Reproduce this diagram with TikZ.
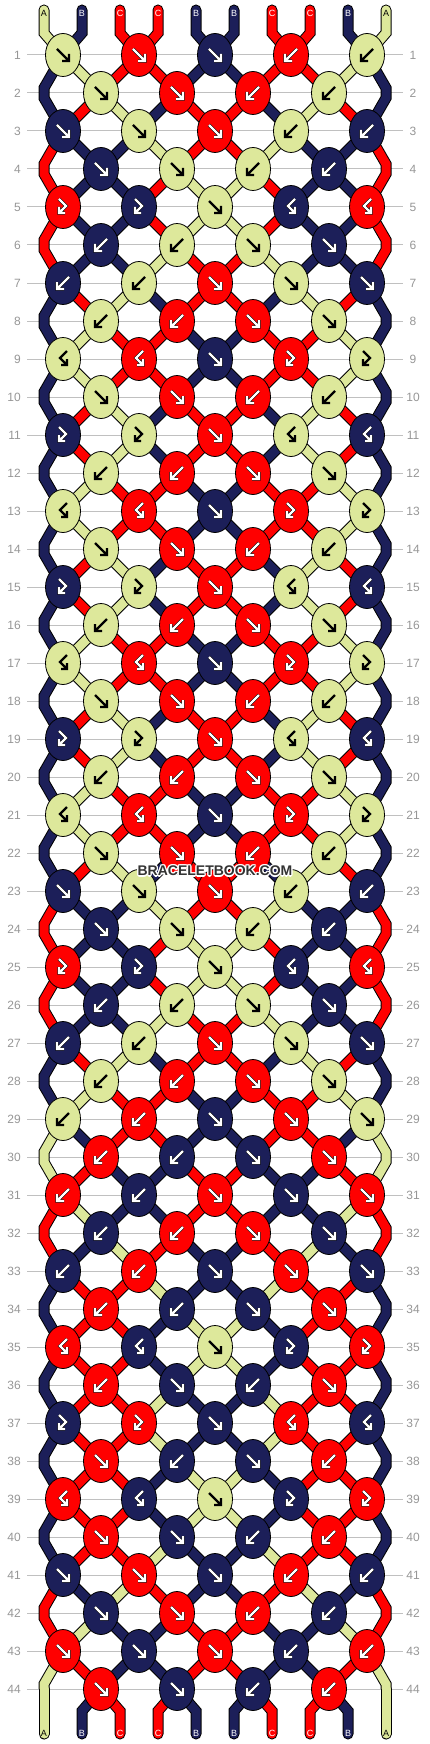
\documentclass[tikz,border=0pt]{standalone}
\usepackage{fontspec}
\setmainfont{Liberation Sans}
\usetikzlibrary{shapes.geometric}

\definecolor{strA}{RGB}{221,232,155}
\definecolor{strB}{RGB}{28,31,89}
\definecolor{strC}{RGB}{255,0,0}
\definecolor{gridgrey}{RGB}{192,192,192}
\definecolor{numgrey}{RGB}{150,150,150}
\definecolor{markgrey}{RGB}{51,51,51}

% arrow ink for each thread colour
\def\inkA{black}
\def\inkB{white}
\def\inkC{white}

% place of thread #2 at row #1
\newcommand\setpos[2]{%
  \pgfmathtruncatemacro\isodd{mod(#1,2)}%
  \ifnum\isodd=1
    \pgfmathsetmacro\px{63+76*floor((#2-1)/2)}%
  \else
    \ifnum#2=1 \def\px{44}\else
    \ifnum#2=10 \def\px{386}\else
    \pgfmathsetmacro\px{101+76*(floor(#2/2)-1)}\fi\fi
  \fi
  \pgfmathsetmacro\py{55+38*(#1-1)}}

% all thread pieces in one go, #1 = rim or core
\newcommand\threadpass[1]{%
  \foreach \r in {1,...,45}{
    \pgfmathtruncatemacro\prev{\r-1}
    \pgfmathtruncatemacro\rodd{mod(\r,2)}
    \foreach \p in {1,...,10}{
      \edef\col{str\csname in-\r-\p\endcsname}
      \pgfmathtruncatemacro\edgeflag{or(\p==1,\p==10)}
      \ifnum\r=1
        \draw[#1=\col, endcap] (top\p) -- (bend\p) -- (q1-\p);
      \else\ifnum\r=45
        \ifnum\edgeflag=1
          \draw[#1=\col, endcap] (q44-\p) -- (tail\p);
        \else
          \draw[#1=\col, endcap] (q44-\p) -- (foot\p) -- (tail\p);
        \fi
      \else\ifnum\edgeflag=0
        \draw[#1=\col] (q\prev-\p) -- (q\r-\p);
      \else\ifnum\rodd=0
        \draw[#1=\col] (q\prev-\p) -- ([yshift=5pt]q\r-\p) -- (q\r-\p);
      \else
        \draw[#1=\col] (q\prev-\p) -- ([yshift=-5pt]q\prev-\p) -- (q\r-\p);
      \fi\fi\fi\fi
    }
  }}

\tikzset{
    knot/.style={ellipse, draw=black, line width=0.8pt, minimum width=35pt, minimum height=43pt, inner sep=0pt},
    rim/.style={line width=11pt, black},
    core/.style={line width=9pt, color=#1},
    endcap/.style={line cap=round},
    rowline/.style={gridgrey, line width=1pt},
    rownum/.style={numgrey, font=\fontsize{12}{12}\selectfont, inner sep=0pt},
    strlabel/.style={font=\fontsize{9}{9}\selectfont, inner sep=0pt},
    watermark/.style={font=\fontsize{14}{14}\selectfont\bfseries, inner sep=0pt},
    glyph/.style={glyphline/.style={glyph #1}},
    glyph white/.style={white, line width=2.2pt, preaction={draw=black, line width=3.2pt}},
    glyph black/.style={black, line width=2.4pt},
    % knot arrows
    fwd/.pic={\draw[glyphline] (-6,-6) -- (5,5) (-1,6) -- (6,6) -- (6,-1);},
    bwd/.pic={\draw[glyphline] (6,-6) -- (-5,5) (1,6) -- (-6,6) -- (-6,-1);},
    fwdbwd/.pic={\draw[glyphline] (-4,-8) -- (3,-1) -- (-3,5) (2,6) -- (-4,6) -- (-4,0);},
    bwdfwd/.pic={\draw[glyphline] (4,-8) -- (-3,-1) -- (3,5) (-2,6) -- (4,6) -- (4,0);}
}

\begin{document}
\begin{tikzpicture}[x=1pt, y=-1pt]
    \useasboundingbox (0,0) rectangle (430,1744);

    % row lines and numbers
    \foreach \r in {1,...,44}{
        \pgfmathsetmacro\py{55+38*(\r-1)}
        \draw[rowline] (27,\py) -- (403,\py);
        \node[rownum, anchor=east] (numL\r) at (21,\py) {\r};
        \node[rownum] (numR\r) at (413,\py) {\r};
    }

    % starting threads
    \foreach \p/\s in {1/A,2/B,3/C,4/C,5/B,6/B,7/C,8/C,9/B,10/A}{
        \expandafter\xdef\csname sc\p\endcsname{\s}
        \pgfmathsetmacro\sx{44+38*(\p-1)}
        \coordinate (top\p) at (\sx,10);
        \coordinate (bend\p) at (\sx,33);
        \coordinate (foot\p) at (\sx,1711);
        \coordinate (tail\p) at (\sx,1734);
    }

    % rows of knots: f forward, b backward, F forward-backward, B backward-forward
    % first only work out the colours
    \foreach \r/\knots in {1/{f,f,f,b,b}, 2/{f,f,b,b}, 3/{f,f,f,b,b}, 4/{f,f,b,b},
        5/{F,F,f,B,B}, 6/{b,b,f,f}, 7/{b,b,f,f,f}, 8/{b,b,f,f},
        9/{B,B,f,F,F}, 10/{f,f,b,b}, 11/{F,F,f,B,B}, 12/{b,b,f,f},
        13/{B,B,f,F,F}, 14/{f,f,b,b}, 15/{F,F,f,B,B}, 16/{b,b,f,f},
        17/{B,B,f,F,F}, 18/{f,f,b,b}, 19/{F,F,f,B,B}, 20/{b,b,f,f},
        21/{B,B,f,F,F}, 22/{f,f,b,b}, 23/{f,f,f,b,b}, 24/{f,f,b,b},
        25/{F,F,f,B,B}, 26/{b,b,f,f}, 27/{b,b,f,f,f}, 28/{b,b,f,f},
        29/{b,b,f,f,f}, 30/{b,b,f,f}, 31/{b,b,f,f,f}, 32/{b,b,f,f},
        33/{b,b,f,f,f}, 34/{b,b,f,f}, 35/{B,B,f,F,F}, 36/{b,f,b,f},
        37/{F,F,f,B,B}, 38/{f,b,f,b}, 39/{B,B,f,F,F}, 40/{f,f,b,b},
        41/{f,f,f,b,b}, 42/{f,f,b,b}, 43/{f,f,f,b,b}, 44/{f,f,b,b}}{
        \pgfmathtruncatemacro\rodd{mod(\r,2)}
        \foreach \p in {1,...,10}{
            \setpos{\r}{\p}
            \coordinate (q\r-\p) at (\px,\py);
            \expandafter\xdef\csname in-\r-\p\endcsname{\csname sc\p\endcsname}
        }
        \foreach \k [count=\j] in \knots {
            \pgfmathtruncatemacro\pl{\rodd==1 ? 2*\j-1 : 2*\j}
            \pgfmathtruncatemacro\pr{\pl+1}
            \edef\cleft{\csname sc\pl\endcsname}
            \edef\cright{\csname sc\pr\endcsname}
            \if f\k \edef\kc{\cleft}\fi
            \if F\k \edef\kc{\cleft}\fi
            \if b\k \edef\kc{\cright}\fi
            \if B\k \edef\kc{\cright}\fi
            \expandafter\xdef\csname kc-\r-\j\endcsname{\kc}
            \expandafter\xdef\csname kt-\r-\j\endcsname{\k}
            \expandafter\xdef\csname kp-\r-\j\endcsname{\pl}
            % plain knots swap the two threads
            \if f\k
                \expandafter\xdef\csname sc\pl\endcsname{\cright}
                \expandafter\xdef\csname sc\pr\endcsname{\cleft}
            \fi
            \if b\k
                \expandafter\xdef\csname sc\pl\endcsname{\cright}
                \expandafter\xdef\csname sc\pr\endcsname{\cleft}
            \fi
        }
    }
    \foreach \p in {1,...,10}{
        \expandafter\xdef\csname in-45-\p\endcsname{\csname sc\p\endcsname}
    }

    % threads: black rims, then colours
    \threadpass{rim}
    \threadpass{core}

    % knots on top
    \foreach \r in {1,...,44}{
        \pgfmathtruncatemacro\nk{mod(\r,2)==1 ? 5 : 4}
        \foreach \j in {1,...,\nk}{
            \edef\kc{\csname kc-\r-\j\endcsname}
            \edef\k{\csname kt-\r-\j\endcsname}
            \edef\pl{\csname kp-\r-\j\endcsname}
            \edef\kfill{str\kc}
            \edef\ink{\csname ink\kc\endcsname}
            \node[knot, fill=\kfill] (k\r-\j) at (q\r-\pl) {};
            \if f\k \pic[glyph=\ink] at (k\r-\j) {fwd};\fi
            \if b\k \pic[glyph=\ink] at (k\r-\j) {bwd};\fi
            \if F\k \pic[glyph=\ink] at (k\r-\j) {fwdbwd};\fi
            \if B\k \pic[glyph=\ink] at (k\r-\j) {bwdfwd};\fi
        }
    }

    % thread letters at both ends
    \foreach \p in {1,...,10}{
        \edef\s{\csname in-1-\p\endcsname}
        \edef\ink{\csname ink\s\endcsname}
        \node[strlabel, text=\ink] (lblT\p) at ([yshift=-3pt]top\p) {\s};
        \edef\s{\csname in-45-\p\endcsname}
        \edef\ink{\csname ink\s\endcsname}
        \node[strlabel, text=\ink] (lblB\p) at ([yshift=1pt]tail\p) {\s};
    }

    % watermark with a white halo
    \foreach \dx/\dy in {-1.2/0, 1.2/0, 0/-1.2, 0/1.2, -1/-1, 1/1, -1/1, 1/-1}{
        \node[watermark, white] at (215+\dx,871+\dy) {BRACELETBOOK.COM};
    }
    \node[watermark, markgrey] (mark) at (215,871) {BRACELETBOOK.COM};
\end{tikzpicture}
\end{document}
